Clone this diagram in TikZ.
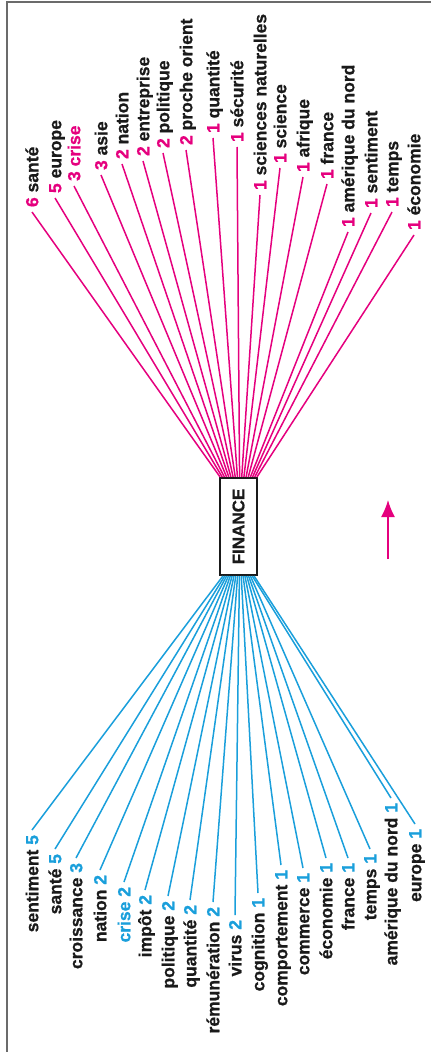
\documentclass[tikz,border=0pt]{standalone}
\usepackage{fontspec}
\setmainfont{Liberation Sans}[BoldFeatures={FakeBold=0.8}]
\usetikzlibrary{arrows.meta,calc}
\definecolor{mag}{HTML}{E5007E}
\definecolor{cyn}{HTML}{1A9FDB}
\definecolor{ink}{HTML}{1A1A1A}
\definecolor{frm}{HTML}{6B6B6B}
\newcommand{\labfont}{\fontsize{17.5}{20}\selectfont\bfseries}
\tikzset{
  lab/.style={rotate=90, inner sep=0pt, outer xsep=5pt, outer ysep=0pt,
    text height=12.5pt, text depth=0pt, font=\labfont, text=ink},
  tlab/.style={lab, anchor=west},
  blab/.style={lab, anchor=east},
  mline/.style={draw=mag, line width=1.5pt},
  cline/.style={draw=cyn, line width=1.5pt},
  centrebox/.style={draw=ink, fill=white, line width=2pt, inner sep=0pt,
    minimum width=37pt, minimum height=97pt, font=\fontsize{17}{20}\selectfont\bfseries, text=ink},
  frame/.style={draw=frm, line width=2pt}
}
\begin{document}
\begin{tikzpicture}[x=1pt,y=-1pt]
\useasboundingbox (0,0) rectangle (431,1052);
\draw[frame] (7,1052) -- (7,2) -- (431,2);
\node[centrebox] (fin) at (238.5,526.5) {\rotatebox{90}{FINANCE}};
% top labels
\foreach \xc/\yb/\n/\w [count=\i from 0] in {
  32/207/6/santé, 55/193/5/europe, 74/181/3/{\textcolor{mag}{crise}}, 101/170/3/asie,
  122/159/2/nation, 143/156/2/entreprise, 163/148/2/politique, 186/145/2/proche orient,
  213/133/1/quantité, 237/142/1/sécurité, 260/190/1/sciences naturelles, 280/163/1/science,
  303/172/1/afrique, 327/179/1/france, 348/227/1/amérique du nord, 371/208/1/sentiment,
  392/207/1/temps, 414/230/1/économie}{
  \node[tlab] (t\i) at (\xc,\yb+5) {\textcolor{mag}{\n} \w};
  \draw[mline] ($(fin.north west)!{(\i+0.5)/18}!(fin.north east)$) -- (t\i.west);
}
% bottom labels
\foreach \xc/\yt/\n/\w [count=\i from 0] in {
  32/835/5/sentiment, 55/854/5/santé, 76/863/3/croissance, 100/875/2/nation,
  124/887/2/{\textcolor{cyn}{crise}}, 145/895/2/impôt, 168/901/2/politique, 190/905/2/quantité,
  213/907/2/rémunération, 235/920/2/virus, 258/898/1/cognition, 281/870/1/comportement,
  303/873/1/commerce, 326/863/1/économie, 348/863/1/france, 370/854/1/temps,
  391/803/1/amérique du nord, 415/829/1/europe}{
  \node[blab] (b\i) at (\xc,\yt-5) {\w\ \textcolor{cyn}{\n}};
  \draw[cline] ($(fin.south west)!{0.1+0.8*\i/17}!(fin.south east)$) -- (b\i.east);
}
% arrow
\coordinate (a1) at (388,559);
\coordinate (a2) at (388,500);
\draw[draw=mag, line width=1.6pt, -{Latex[length=17pt,width=14pt]}] (a1) -- (a2);
\end{tikzpicture}
\end{document}
